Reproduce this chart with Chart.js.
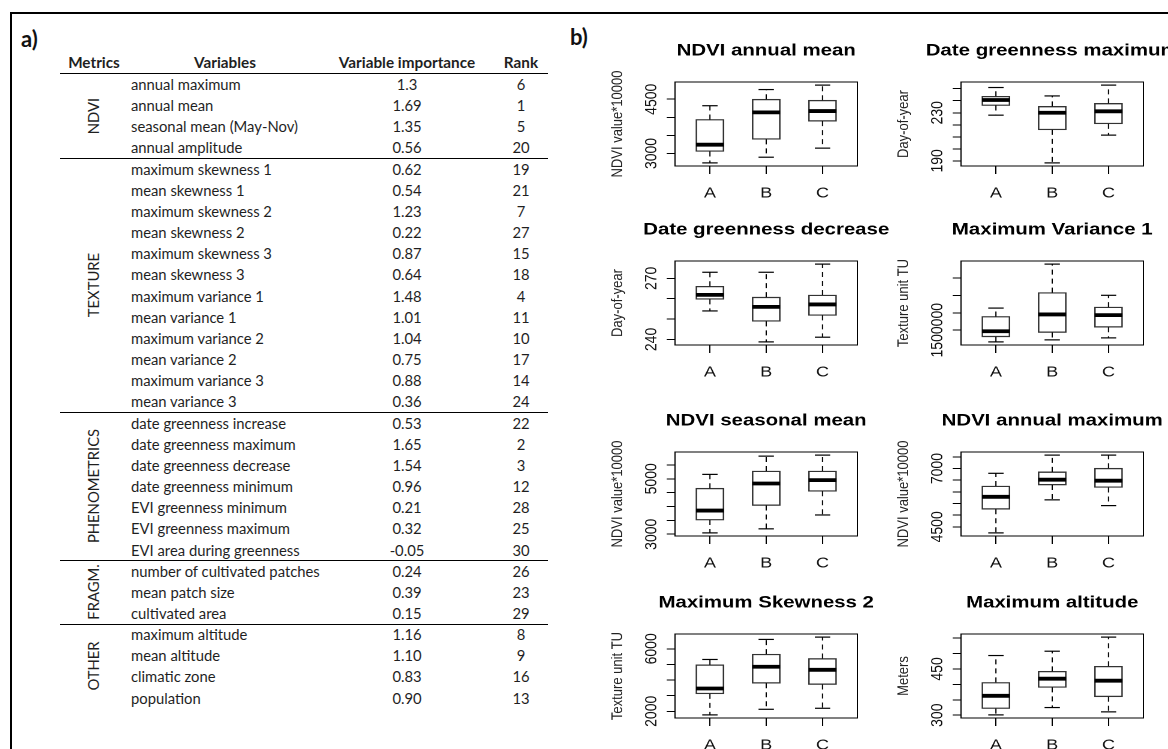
<!DOCTYPE html>
<html>
<head>
<meta charset="utf-8">
<script src="https://cdn.jsdelivr.net/npm/chart.js@4.4.1/dist/chart.umd.min.js"></script>
<style>
  html, body { margin: 0; padding: 0; background: #fff; width: 1168px; height: 749px; overflow: hidden; }
  #frame { position: absolute; left: 10px; top: 12px; width: 1300px; height: 900px; border-left: 2px solid #000; border-top: 2px solid #000; }
  .lbl { position: absolute; font-family: Lato, "Open Sans", sans-serif; font-weight: bold; font-size: 22px; color: #111; }
  .t { position: absolute; font-family: Lato, "Open Sans", sans-serif; font-size: 14.8px; color: #1f1f1f; line-height: 20px; white-space: nowrap; }
  .c { text-align: center; }
  .b { font-weight: bold; font-size: 15.3px; }
  .rot { transform: translate(-50%, -50%) rotate(-90deg); }
  .hl { position: absolute; left: 60px; width: 488px; height: 0; border-top: 1px solid #000; }
  .plot { position: absolute; transform: scaleX(1.2); transform-origin: 0 0; }
</style>
</head>
<body>
<div id="frame"></div>
<div class="lbl" style="left:21px;top:25px">a)</div>
<div class="lbl" style="left:570px;top:23px">b)</div>
<div id="table"></div>
<div id="plots"></div>
<script>
// ---- table a) ----
const metricGroups = ['NDVI', 'TEXTURE', 'PHENOMETRICS', 'FRAGM.', 'OTHER'];
const groupSizes = [4, 12, 7, 3, 4];
const variables = [
  'annual maximum', 'annual mean', 'seasonal mean (May-Nov)', 'annual amplitude',
  'maximum skewness 1', 'mean skewness 1', 'maximum skewness 2', 'mean skewness 2',
  'maximum skewness 3', 'mean skewness 3', 'maximum variance 1', 'mean variance 1',
  'maximum variance 2', 'mean variance 2', 'maximum variance 3', 'mean variance 3',
  'date greenness increase', 'date greenness maximum', 'date greenness decrease', 'date greenness minimum',
  'EVI greenness minimum', 'EVI greenness maximum', 'EVI area during greenness',
  'number of cultivated patches', 'mean patch size', 'cultivated area',
  'maximum altitude', 'mean altitude', 'climatic zone', 'population'
];
const importance = ['1.3', '1.69', '1.35', '0.56', '0.62', '0.54', '1.23', '0.22', '0.87', '0.64', '1.48', '1.01',
  '1.04', '0.75', '0.88', '0.36', '0.53', '1.65', '1.54', '0.96', '0.21', '0.32', '-0.05', '0.24', '0.39', '0.15',
  '1.16', '1.10', '0.83', '0.90'];
const ranks = [6, 1, 5, 20, 19, 21, 7, 27, 15, 18, 4, 11, 10, 17, 14, 24, 22, 2, 3, 12, 28, 25, 30, 26, 23, 29, 8, 9, 16, 13];

const tbl = document.getElementById('table');
const rowY = i => 84 + i * 21.16;
function put(text, cls, style) {
  const d = document.createElement('div');
  d.className = cls;
  d.style.cssText = style;
  d.textContent = text;
  tbl.appendChild(d);
}
put('Metrics', 't b c', 'left:54px;top:52px;width:80px');
put('Variables', 't b c', 'left:165px;top:52px;width:120px');
put('Variable importance', 't b c', 'left:317px;top:52px;width:180px');
put('Rank', 't b c', 'left:491px;top:52px;width:60px');
tbl.insertAdjacentHTML('beforeend', '<div class="hl" style="top:73px"></div>');
variables.forEach((v, i) => {
  const top = rowY(i) - 10;
  put(v, 't', `left:131px;top:${top}px`);
  put(importance[i], 't c', `left:357px;top:${top}px;width:100px`);
  put(String(ranks[i]), 't c', `left:491px;top:${top}px;width:60px`);
});
let start = 0;
metricGroups.forEach((g, k) => {
  const end = start + groupSizes[k] - 1;
  put(g, 't rot', `left:93px;top:${(rowY(start) + rowY(end)) / 2}px`);
  if (k < metricGroups.length - 1) {
    tbl.insertAdjacentHTML('beforeend', `<div class="hl" style="top:${(rowY(end) + rowY(end + 1)) / 2}px"></div>`);
  }
  start = end + 1;
});

// ---- box plots b) ----
const groups = ['A', 'B', 'C'];
// each group: [lower whisker, Q1, median, Q3, upper whisker]
const ndviAnnualMean   = [[2740, 3056, 3243, 3941, 4321], [2897, 3391, 4137, 4500, 4768], [3148, 3894, 4173, 4472, 4891]];
const dateGreenMax     = [[228, 236, 240.6, 243.7, 251], [188.3, 215.8, 230, 235.3, 244], [211.4, 220.8, 231.2, 237.8, 253]];
const dateGreenDec     = [[254, 259.7, 261.9, 266.1, 273], [238.8, 248.9, 256, 260.8, 273], [241.1, 251.8, 257.2, 261.8, 277]];
const maxVariance1     = [[1165000, 1309000, 1471000, 1896000, 2136000], [1223000, 1434000, 1954000, 2581000, 3399000], [1280000, 1587000, 1934000, 2165000, 2503000]];
const ndviSeasonalMean = [[3049, 3512, 3854, 4659, 5159], [3195, 4037, 4829, 5280, 5817], [3695, 4549, 4951, 5280, 5854]];
const ndviAnnualMax    = [[4240, 5254, 5788, 6252, 6798], [5658, 6295, 6525, 6859, 7579], [5411, 6191, 6482, 7015, 7579]];
const maxSkewness2     = [[1769, 3117, 3457, 4978, 5318], [2128, 3797, 4850, 5659, 6602], [2193, 3714, 4657, 5382, 6750]];
const maxAltitude      = [[301, 321.5, 362.9, 406.3, 493.4], [324.8, 390, 418.4, 442.2, 507.4], [310.8, 359.7, 411.9, 458.5, 553.1]];

const ticksAnnualMean = [3000, 3500, 4000, 4500],            labelsAnnualMean = [3000, 4500];
const ticksGreenMax   = [190, 200, 210, 220, 230, 240, 250], labelsGreenMax   = [190, 230];
const ticksGreenDec   = [240, 250, 260, 270],                labelsGreenDec   = [240, 270];
const ticksVariance1  = [1500000, 2000000, 2500000, 3000000], labelsVariance1 = [1500000];
const ticksSeasonal   = [3000, 3500, 4000, 4500, 5000, 5500], labelsSeasonal  = [3000, 5000];
const ticksAnnualMax  = [4500, 5000, 5500, 6000, 6500, 7000, 7500], labelsAnnualMax = [4500, 7000];
const ticksSkewness2  = [2000, 3000, 4000, 5000, 6000],      labelsSkewness2  = [2000, 6000];
const ticksAltitude   = [300, 350, 400, 450, 500, 550],      labelsAltitude   = [300, 450];

const panels = [
  { title: 'NDVI annual mean',        yTitle: 'NDVI value*10000', stats: ndviAnnualMean,   ticks: ticksAnnualMean, labels: labelsAnnualMean, left: 602.5, top: 32 },
  { title: 'Date greenness maximum',  yTitle: 'Day-of-year',      stats: dateGreenMax,     ticks: ticksGreenMax,   labels: labelsGreenMax,   left: 888.5, top: 32 },
  { title: 'Date greenness decrease', yTitle: 'Day-of-year',      stats: dateGreenDec,     ticks: ticksGreenDec,   labels: labelsGreenDec,   left: 602.5, top: 211 },
  { title: 'Maximum Variance 1',      yTitle: 'Texture unit TU',  stats: maxVariance1,     ticks: ticksVariance1,  labels: labelsVariance1,  left: 888.5, top: 211 },
  { title: 'NDVI seasonal mean',      yTitle: 'NDVI value*10000', stats: ndviSeasonalMean, ticks: ticksSeasonal,   labels: labelsSeasonal,   left: 602.5, top: 402 },
  { title: 'NDVI annual maximum',     yTitle: 'NDVI value*10000', stats: ndviAnnualMax,    ticks: ticksAnnualMax,  labels: labelsAnnualMax,  left: 888.5, top: 402 },
  { title: 'Maximum Skewness 2',      yTitle: 'Texture unit TU',  stats: maxSkewness2,     ticks: ticksSkewness2,  labels: labelsSkewness2,  left: 602.5, top: 584 },
  { title: 'Maximum altitude',        yTitle: 'Meters',           stats: maxAltitude,      ticks: ticksAltitude,   labels: labelsAltitude,   left: 888.5, top: 584 }
];

const FONT = '"Liberation Sans", Arial, Helvetica, sans-serif';
const TICK_SIZE = 14;
Chart.defaults.font.family = FONT;
const mctx = document.createElement('canvas').getContext('2d');
function textWidth(s, size) {
  mctx.font = 'normal ' + size + 'px ' + FONT;
  return mctx.measureText(s).width;
}

// R-style frame round the plot region
const frame = {
  id: 'frame',
  afterDatasetsDraw(chart) {
    const { ctx, chartArea: a } = chart;
    ctx.save();
    ctx.strokeStyle = '#000';
    ctx.lineWidth = 1;
    ctx.strokeRect(a.left, a.top, a.right - a.left, a.bottom - a.top);
    ctx.restore();
  }
};

function boxChart(canvas, p) {
  const lo = Math.min(...p.stats.map(s => s[0]));
  const hi = Math.max(...p.stats.map(s => s[4]));
  const ext = (hi - lo) * 0.04;
  const widest = Math.max(...p.labels.map(l => textWidth(String(l), TICK_SIZE)));
  const tickPad = 19.2 - 6.9 - widest / 2;

  const boxes = p.stats.map((s, i) => ({ x: i + 1, y: [s[1], s[3]] }));
  const medians = p.stats.map((s, i) => ({ x: i + 1, y: s[2] }));
  const caps = p.stats.flatMap((s, i) => [{ x: i + 1, y: s[0] }, { x: i + 1, y: s[4] }]);
  const whiskers = p.stats.flatMap((s, i) => [
    { x: i + 1, y: s[3] }, { x: i + 1, y: s[4] }, { x: i + 1, y: null },
    { x: i + 1, y: s[1] }, { x: i + 1, y: s[0] }, { x: i + 1, y: null }
  ]);

  return new Chart(canvas, {
    type: 'bar',
    data: {
      datasets: [
        { type: 'scatter', data: medians, yAxisID: 'y', pointStyle: 'line', pointRadius: 11.6, borderColor: '#000', borderWidth: 3.8, order: 0 },
        { type: 'scatter', data: caps, yAxisID: 'y', pointStyle: 'line', pointRadius: 6.4, borderColor: '#000', borderWidth: 1.2, order: 1 },
        { type: 'line', data: whiskers, yAxisID: 'y', borderColor: '#000', borderWidth: 1, borderDash: [5, 4], pointRadius: 0, spanGaps: false, order: 2 },
        { type: 'bar', data: boxes, yAxisID: 'y', backgroundColor: '#fff', borderColor: '#333', borderWidth: 1.3, borderSkipped: false, barThickness: 23.3, order: 3 }
      ]
    },
    options: {
      responsive: false,
      animation: false,
      events: [],
      devicePixelRatio: 2,
      layout: { padding: 0 },
      plugins: {
        legend: { display: false },
        tooltip: { enabled: false },
        title: { display: true, text: p.title, color: '#000', font: { size: 17, weight: 'bold' }, padding: { top: 8.8, bottom: 20.8 } }
      },
      scales: {
        x: {
          type: 'linear', min: 0.38, max: 3.62, offset: false,
          afterBuildTicks: s => { s.ticks = groups.map((g, i) => ({ value: i + 1 })); },
          ticks: { callback: v => groups[v - 1], font: { size: 15 }, color: '#111', padding: 10.5, maxRotation: 0, autoSkip: false },
          grid: { offset: false, drawOnChartArea: false, drawTicks: true, tickLength: 8, color: '#000' },
          border: { display: false },
          afterFit: s => { s.height = 45; }
        },
        y: {
          type: 'linear', position: 'left', min: lo - ext, max: hi + ext,
          afterBuildTicks: s => { s.ticks = p.ticks.map(v => ({ value: v })); },
          ticks: { callback: v => p.labels.includes(v) ? String(v) : '', minRotation: 90, maxRotation: 90, autoSkip: false,
                   crossAlign: 'center', padding: tickPad, font: { size: TICK_SIZE }, color: '#111' },
          grid: { drawOnChartArea: false, drawTicks: true, tickLength: 6.9, color: '#000' },
          border: { display: false },
          title: { display: true, text: p.yTitle, font: { size: 13 }, color: '#222', padding: { top: 4.7, bottom: 0 } },
          afterFit: s => { s.width = 60; }
        },
        yr: {
          type: 'linear', position: 'right', display: true,
          ticks: { display: false }, grid: { display: false }, border: { display: false },
          afterFit: s => { s.width = 60; }
        }
      }
    },
    plugins: [frame]
  });
}

const host = document.getElementById('plots');
panels.forEach(p => {
  const wrap = document.createElement('div');
  wrap.className = 'plot';
  wrap.style.left = p.left + 'px';
  wrap.style.top = p.top + 'px';
  const cv = document.createElement('canvas');
  cv.width = 272;
  cv.height = 179;
  wrap.appendChild(cv);
  host.appendChild(wrap);
  boxChart(cv, p);
});
</script>
</body>
</html>
